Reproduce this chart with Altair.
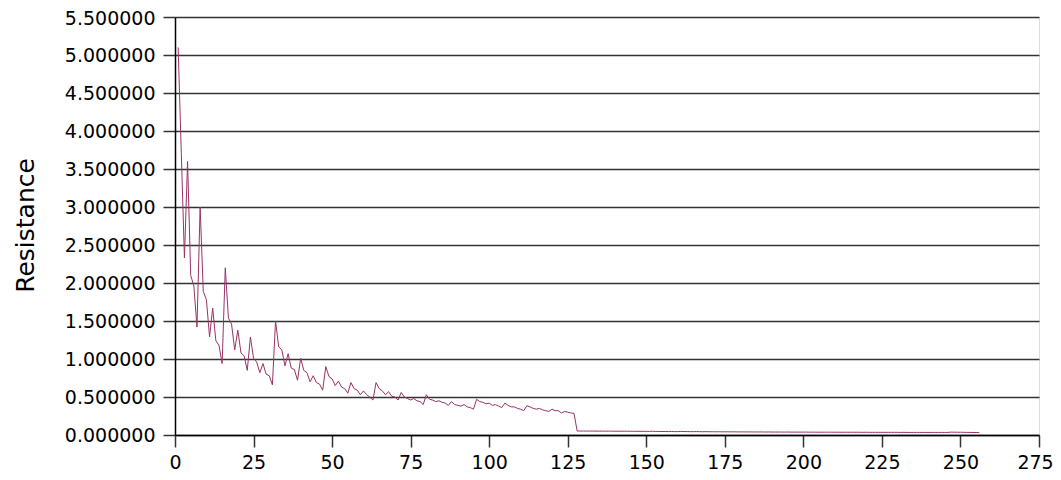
import altair as alt
import pandas as pd

# Resistance values for x = 1 .. 127
vals_a = [
    5.10, 3.72, 2.33, 3.60, 2.10, 1.96, 1.42, 3.00, 1.89, 1.78,
    1.29, 1.67, 1.24, 1.18, 0.94, 2.20, 1.54, 1.46, 1.12, 1.38,
    1.08, 1.04, 0.85, 1.29, 1.01, 0.96, 0.82, 0.94, 0.80, 0.78,
    0.66, 1.50, 1.16, 1.12, 0.91, 1.07, 0.88, 0.86, 0.72, 1.01,
    0.85, 0.82, 0.70, 0.78, 0.69, 0.67, 0.59, 0.90, 0.77, 0.74,
    0.65, 0.71, 0.63, 0.61, 0.55, 0.69, 0.61, 0.59, 0.53, 0.58,
    0.53, 0.50, 0.46, 0.69, 0.61, 0.58, 0.53, 0.57, 0.51, 0.50,
    0.46, 0.56, 0.50, 0.48, 0.46, 0.48, 0.45, 0.44, 0.40, 0.53,
    0.47, 0.46, 0.44, 0.45, 0.43, 0.42, 0.39, 0.44, 0.40, 0.39,
    0.38, 0.40, 0.37, 0.36, 0.34, 0.47, 0.44, 0.43, 0.41, 0.42,
    0.39, 0.40, 0.38, 0.36, 0.42, 0.39, 0.37, 0.37, 0.35, 0.34,
    0.32, 0.385, 0.37, 0.35, 0.34, 0.35, 0.33, 0.32, 0.31, 0.34,
    0.32, 0.32, 0.29, 0.31, 0.30, 0.29, 0.285,
]
# Resistance values for x = 128 .. 256
vals_b = [
    0.053, 0.052, 0.052, 0.052, 0.051, 0.052, 0.051, 0.051, 0.051, 0.050, 0.051, 0.050,
    0.050, 0.050, 0.049, 0.050, 0.049, 0.049, 0.049, 0.048, 0.049, 0.048, 0.048, 0.047,
    0.049, 0.047, 0.047, 0.046, 0.046, 0.045, 0.046, 0.045, 0.045, 0.047, 0.046, 0.045,
    0.044, 0.044, 0.045, 0.044, 0.043, 0.044, 0.043, 0.043, 0.042, 0.043, 0.042, 0.042,
    0.042, 0.041, 0.042, 0.041, 0.041, 0.041, 0.040, 0.041, 0.040, 0.040, 0.040, 0.040,
    0.039, 0.040, 0.039, 0.039, 0.039, 0.039, 0.038, 0.039, 0.038, 0.038, 0.038, 0.038,
    0.038, 0.038, 0.037, 0.038, 0.037, 0.037, 0.037, 0.037, 0.037, 0.037, 0.036, 0.037,
    0.036, 0.036, 0.036, 0.036, 0.036, 0.036, 0.036, 0.035, 0.036, 0.035, 0.035, 0.035,
    0.035, 0.035, 0.035, 0.035, 0.035, 0.035, 0.035, 0.034, 0.035, 0.034, 0.034, 0.034,
    0.034, 0.034, 0.034, 0.034, 0.034, 0.034, 0.034, 0.034, 0.034, 0.034, 0.034, 0.038,
    0.037, 0.036, 0.036, 0.035, 0.034, 0.034, 0.033, 0.033, 0.032,
]
resistance = vals_a + vals_b
index = list(range(1, len(resistance) + 1))

x_ticks = [0, 25, 50, 75, 100, 125, 150, 175, 200, 225, 250, 275]
y_ticks = [0.0, 0.5, 1.0, 1.5, 2.0, 2.5, 3.0, 3.5, 4.0, 4.5, 5.0, 5.5]

df = pd.DataFrame({"x": index, "Resistance": resistance})

FONT = "DejaVu Sans"

chart = alt.Chart(df).mark_line(color="#993366", strokeWidth=1, clip=True).encode(
    x=alt.X("x:Q",
            scale=alt.Scale(domain=[0, 275], nice=False, zero=False),
            axis=alt.Axis(values=x_ticks, title=None, grid=False, format="d",
                          domainColor="#000000", domainWidth=1.5,
                          tickColor="#333333", tickSize=12, tickWidth=1.5,
                          labelFont=FONT, labelFontSize=19, labelColor="#000000",
                          labelPadding=6, labelFlush=False,
                          labelOffset={"condition": {"test": "datum.value == 275", "value": -4},
                                       "value": 0})),
    y=alt.Y("Resistance:Q",
            scale=alt.Scale(domain=[0, 5.5], nice=False),
            axis=alt.Axis(values=y_ticks, format=".6f", title="Resistance",
                          grid=True, gridColor="#333333", gridWidth=1.3,
                          domainColor="#000000", domainWidth=1.5,
                          tickColor="#333333", tickSize=12, tickWidth=1.5,
                          labelFont=FONT, labelFontSize=19, labelColor="#000000",
                          labelPadding=8,
                          labelOffset={"condition": {"test": "datum.value == 5.5", "value": 1},
                                       "value": 0},
                          titleFont=FONT, titleFontSize=25, titleFontWeight="normal",
                          titleColor="#000000", titleAngle=-90, titleX=-150, titleY=208,
                          titleAlign="center", titleBaseline="middle")),
).properties(
    width=864,
    height=418,
    autosize=alt.AutoSizeParams(type="none"),
    padding={"left": 167, "top": 9, "right": 14, "bottom": 37},
).configure_view(
    fill="#d9d9d9", stroke=None
).configure(background="#ffffff")

chart.save("out.html", embed_options={"renderer": "svg", "actions": False})
